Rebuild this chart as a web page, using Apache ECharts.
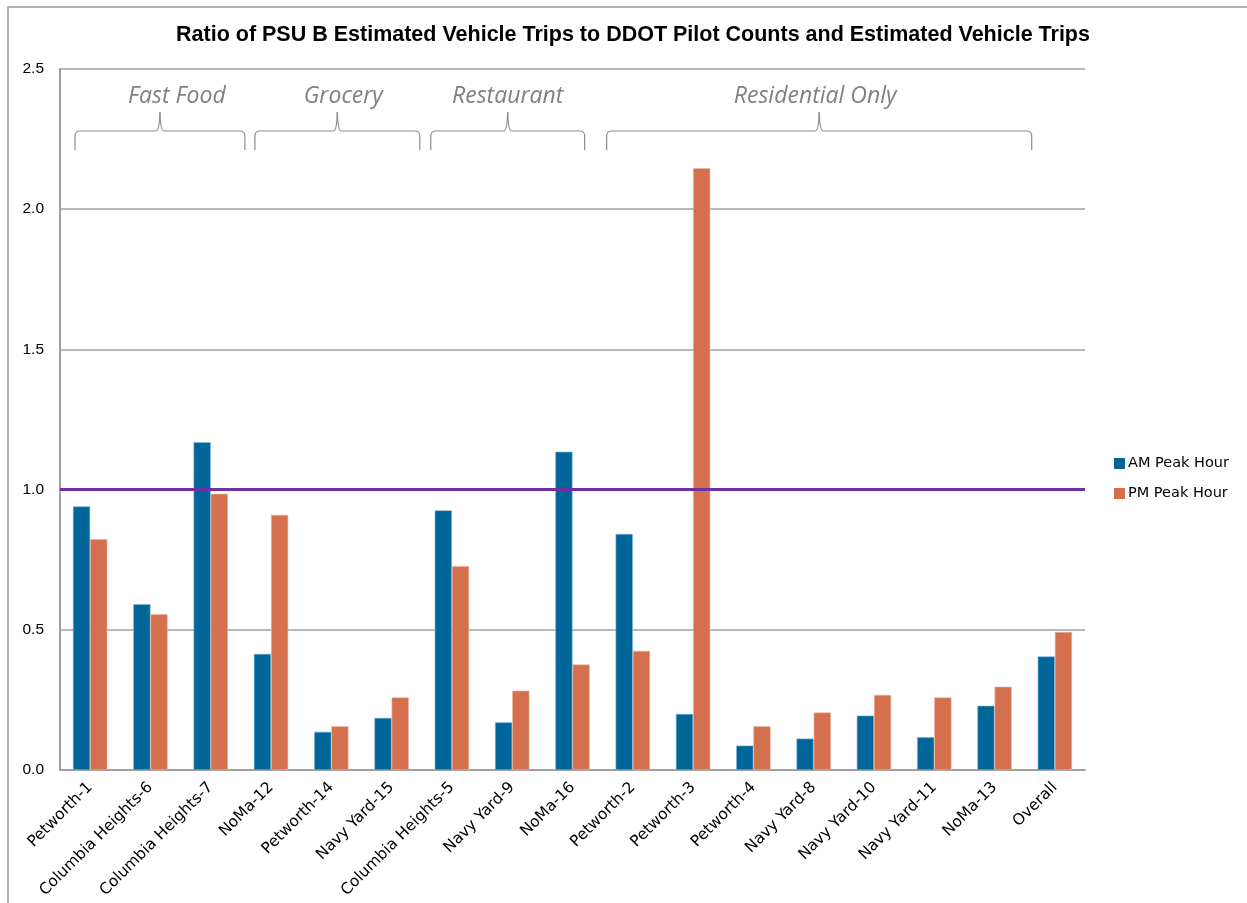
<!DOCTYPE html>
<html>
<head>
<meta charset="utf-8">
<script src="https://cdn.jsdelivr.net/npm/echarts@6/dist/echarts.min.js"></script>
<style>
html,body{margin:0;padding:0;background:#fff;}
#chart{width:1247px;height:903px;}
</style>
</head>
<body>
<div id="chart"></div>
<script>
const categories = ['Petworth-1','Columbia Heights-6','Columbia Heights-7','NoMa-12','Petworth-14','Navy Yard-15','Columbia Heights-5','Navy Yard-9','NoMa-16','Petworth-2','Petworth-3','Petworth-4','Navy Yard-8','Navy Yard-10','Navy Yard-11','NoMa-13','Overall'];
const amPeak = [0.940,0.591,1.169,0.414,0.136,0.186,0.926,0.170,1.135,0.842,0.200,0.087,0.112,0.194,0.117,0.229,0.405];
const pmPeak = [0.823,0.556,0.985,0.910,0.156,0.259,0.727,0.283,0.376,0.425,2.146,0.156,0.205,0.268,0.259,0.297,0.492];
const referenceRatio = 1.0;
const groupNames = ['Fast Food','Grocery','Restaurant','Residential Only'];
const groupStart = [0,3,6,9];
const groupEnd = [2,5,8,15];
const yTicks = [0,0.5,1.0,1.5,2.0,2.5];

const chart = echarts.init(document.getElementById('chart'));
const gridL = 60, gridR = 162, gridT = 69, gridB = 133;

const option = {
  animation: false,
  backgroundColor: '#fff',
  title: {
    text: 'Ratio of PSU B Estimated Vehicle Trips to DDOT Pilot Counts and Estimated Vehicle Trips',
    left: 628, top: 19, textAlign: 'center',
    textStyle: {fontFamily: 'Liberation Sans', fontWeight: 'bold', fontSize: 21.5, color: '#000'}
  },
  legend: {
    orient: 'vertical', left: 1109, top: 451, itemWidth: 11, itemHeight: 11, itemGap: 15,
    icon: 'rect',
    itemStyle: {borderWidth: 0},
    textStyle: {fontFamily: 'DejaVu Sans', fontSize: 14.5, color: '#000', padding: [0,0,0,-2]},
    data: ['AM Peak Hour','PM Peak Hour']
  },
  grid: {left: gridL, right: gridR, top: gridT, bottom: gridB, containLabel: false},
  xAxis: {
    type: 'category', data: categories,
    axisLine: {lineStyle: {color: '#a0a0a0', width: 2}},
    axisTick: {show: false},
    axisLabel: {rotate: 45, fontFamily: 'DejaVu Sans', fontSize: 15.5, color: '#000', margin: 15, interval: 0}
  },
  yAxis: {
    type: 'value', min: yTicks[0], max: yTicks[yTicks.length-1], interval: 0.5,
    axisLine: {show: true, lineStyle: {color: '#a0a0a0', width: 2}},
    axisTick: {show: false},
    splitLine: {lineStyle: {color: '#a0a0a0', width: 1.5}},
    axisLabel: {fontFamily: 'Liberation Sans', fontSize: 15.5, color: '#000', margin: 16,
      formatter: v => v.toFixed(1)}
  },
  series: [
    {name: 'AM Peak Hour', type: 'bar', data: amPeak, barGap: '0%', barCategoryGap: '43%',
     itemStyle: {color: '#00669A', borderColor: '#7fb3d3', borderWidth: 0.6},
     markLine: {silent: true, symbol: 'none', label: {show: false},
       lineStyle: {color: '#7030A0', width: 3, type: 'solid'},
       data: [{yAxis: referenceRatio}]}},
    {name: 'PM Peak Hour', type: 'bar', data: pmPeak,
     itemStyle: {color: '#D4704D', borderColor: '#ebb59f', borderWidth: 0.6}}
  ]
};
chart.setOption(option);

// frame and group brackets (layout only)
const bracketInsetL = [15, 14, 9, 4];
const bracketInsetR = [4, -2, -18, 7];
const labelShift = [17, 6, 0, -4];
const stroke = {stroke: '#8c8c8c', lineWidth: 1.2, fill: null};
const graphics = [
  {type: 'polyline', shape: {points: [[8,903],[8,7],[1247,7]]}, style: {stroke: '#999', lineWidth: 1.5, fill: null}}
];
const c0 = chart.convertToPixel({xAxisIndex: 0}, 0);
const c1 = chart.convertToPixel({xAxisIndex: 0}, 1);
const band = c1 - c0;
const T = 131, tipY = 112, B = 150, r = 5;
function seg(x1,y1,x2,y2){ graphics.push({type:'line', shape:{x1,y1,x2,y2}, style: stroke}); }
function curve(x1,y1,cx,cy,x2,y2){ graphics.push({type:'bezierCurve', shape:{x1,y1,x2,y2,cpx1:cx,cpy1:cy}, style: stroke}); }
groupNames.forEach((name, i) => {
  const L = chart.convertToPixel({xAxisIndex: 0}, groupStart[i]) - band/2 + bracketInsetL[i];
  const R = chart.convertToPixel({xAxisIndex: 0}, groupEnd[i]) + band/2 + bracketInsetR[i];
  const C = (L + R) / 2;
  seg(L, B, L, T + r);
  curve(L, T + r, L, T, L + r, T);
  seg(L + r, T, C - 4, T);
  curve(C - 4, T, C - 0.5, T, C, tipY);
  curve(C, tipY, C + 0.5, T, C + 4, T);
  seg(C + 4, T, R - r, T);
  curve(R - r, T, R, T, R, T + r);
  seg(R, T + r, R, B);
  graphics.push({type: 'text', x: C + labelShift[i], y: 96, style: {text: name, fill: '#808080', font: 'italic 23px "Liberation Sans Narrow", "Open Sans", sans-serif', textAlign: 'center', textVerticalAlign: 'middle'}});
});
chart.setOption({graphic: graphics});
</script>
</body>
</html>
